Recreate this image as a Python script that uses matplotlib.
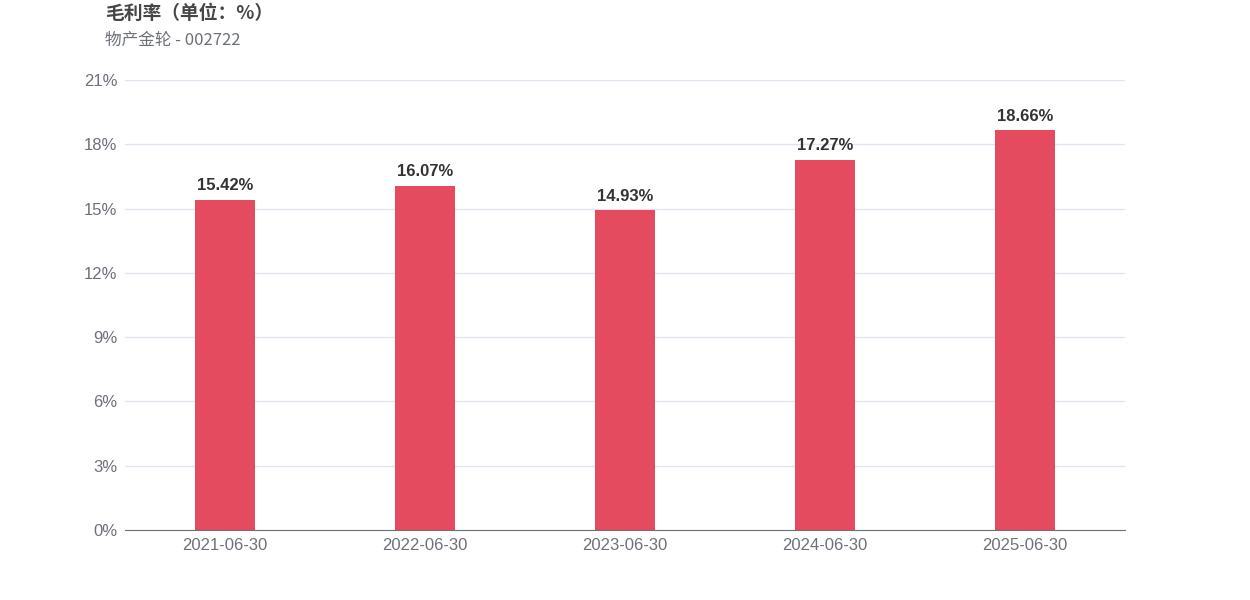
import matplotlib
matplotlib.use("Agg")
import matplotlib.pyplot as plt
from matplotlib.ticker import FuncFormatter

plt.rcParams['font.family'] = ['Liberation Sans', 'Noto Sans CJK SC', 'DejaVu Sans']

dates = ['2021-06-30', '2022-06-30', '2023-06-30', '2024-06-30', '2025-06-30']
margins = [15.42, 16.07, 14.93, 17.27, 18.66]
yticks = [0, 3, 6, 9, 12, 15, 18, 21]

fig = plt.figure(figsize=(12.5, 6), dpi=100)
ax = fig.add_axes([125 / 1250, 70 / 600, 1000 / 1250, 450 / 600])

x = range(len(dates))
bars = ax.bar(x, margins, width=0.3, color='#E54B5F', zorder=3)
for b, v in zip(bars, margins):
    ax.text(b.get_x() + b.get_width() / 2, v + 0.3, f'{v:.2f}%', ha='center', va='bottom',
            fontsize=12, fontweight='bold', color='#333333')

ax.set_xlim(-0.5, len(dates) - 0.5)
ax.set_ylim(0, 21)
ax.set_yticks(yticks)
ax.yaxis.set_major_formatter(FuncFormatter(lambda v, p: f'{v:.0f}%'))
ax.set_xticks(list(x))
ax.set_xticklabels(dates)
ax.grid(axis='y', color='#E0E6F1', linewidth=1, zorder=0)
for s in ['top', 'right', 'left']:
    ax.spines[s].set_visible(False)
ax.spines['bottom'].set_color('#6E7079')
ax.tick_params(axis='both', length=0, labelsize=12, colors='#6E7079')
ax.tick_params(axis='y', pad=5.5)
ax.tick_params(axis='x', pad=6)

fig.text(105 / 1250, 1 - 13 / 600, '毛利率（单位：%）', fontsize=13.5, fontweight='bold',
         color='#464646', va='center', family=['Noto Sans CJK SC', 'DejaVu Sans'])
fig.text(105 / 1250, 1 - 40 / 600, '物产金轮 - 002722', fontsize=12, color='#6E7079',
         va='center', family=['Noto Sans CJK SC', 'DejaVu Sans'])

fig.savefig('out.png', dpi=100)
